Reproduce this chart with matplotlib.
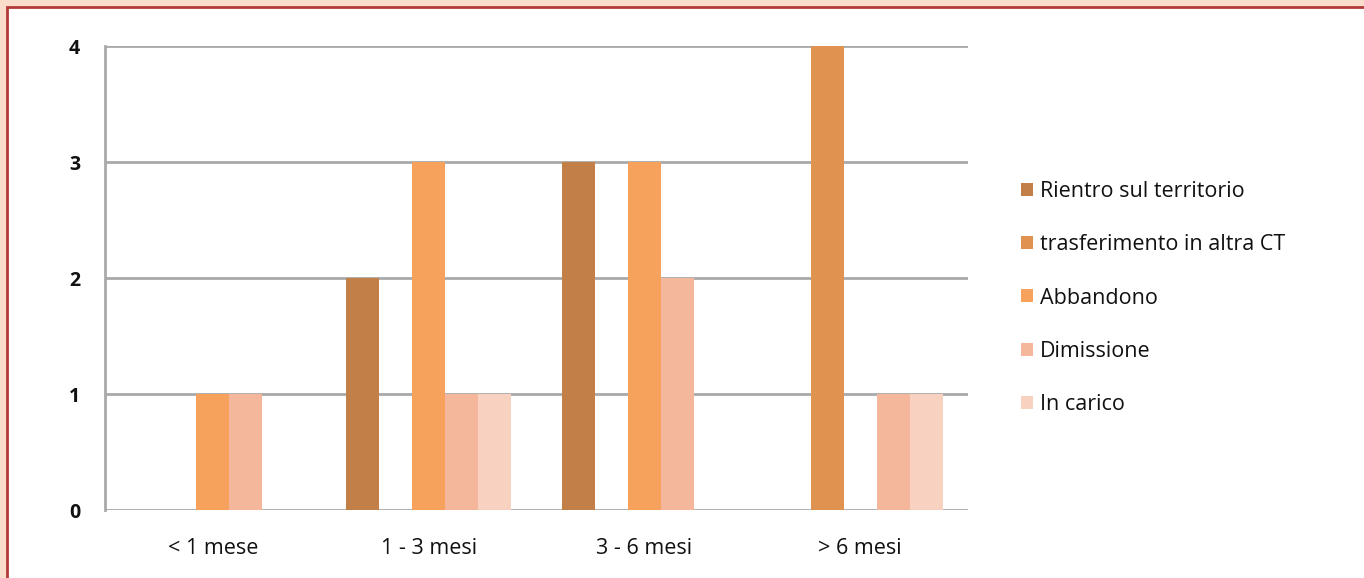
import matplotlib.pyplot as plt
import numpy as np
from matplotlib.patches import Rectangle

# Durata della permanenza in comunità e relativo esito
periods = ['< 1 mese', '1 - 3 mesi', '3 - 6 mesi', '> 6 mesi']
outcomes = ['Rientro sul territorio', 'trasferimento in altra CT', 'Abbandono',
            'Dimissione', 'In carico']

rientro = [0, 2, 3, 0]
trasferimento = [0, 0, 0, 4]
abbandono = [1, 3, 3, 0]
dimissione = [1, 1, 2, 1]
in_carico = [0, 1, 0, 1]

series = [rientro, trasferimento, abbandono, dimissione, in_carico]
colors = ['#C27F47', '#E09351', '#F7A25C', '#F5B79B', '#F8D1C0']

plt.rcParams['font.family'] = ['Open Sans', 'DejaVu Sans']

W, H = 1364, 578
fig = plt.figure(figsize=(W / 100, H / 100), dpi=100, facecolor='#FCDCCA')

# white page with red rule on top and left
fig.patches.append(Rectangle((6.5 / W, -0.1), 1.2, 1 - 6.5 / H + 0.1,
                             transform=fig.transFigure, facecolor='white',
                             edgecolor='#B23A38', linewidth=2, zorder=-10))

ax = fig.add_axes([105 / W, (H - 510) / H, (968 - 105) / W, (510 - 46) / H])
ax.set_facecolor('white')
ax.set_zorder(1)

x = np.arange(len(periods))
bar_w = 33 / 216
for i, (vals, col) in enumerate(zip(series, colors)):
    ax.bar(x + (i - 2) * bar_w, vals, width=bar_w, color=col,
           label=outcomes[i], zorder=3)

ax.set_xlim(-0.5, len(periods) - 0.5)
ax.set_ylim(0, 4)
ax.set_yticks(range(5))
ax.yaxis.grid(True, color='#A9A9A9', linewidth=2)
ax.set_axisbelow(True)

for side in ['top', 'right', 'bottom']:
    ax.spines[side].set_visible(False)
ax.spines['left'].set_color('#A9A9A9')
ax.spines['left'].set_linewidth(2)

ax.set_xticks(x)
ax.set_xticklabels(periods, fontsize=15.5, color='#111111')
ax.tick_params(axis='both', length=0)
ax.tick_params(axis='x', pad=20)
ax.tick_params(axis='y', pad=18)
for lbl in ax.get_yticklabels():
    lbl.set_fontsize(14)
    lbl.set_fontweight('bold')
    lbl.set_color('#111111')

fig.legend(loc='center left', bbox_to_anchor=(1002 / W, 1 - 298 / H),
           frameon=False, fontsize=15.5, handlelength=0.55, handleheight=0.55,
           handletextpad=0.3, labelspacing=1.5, labelcolor='#111111')

fig.savefig('out.png', dpi=100, facecolor=fig.get_facecolor())
